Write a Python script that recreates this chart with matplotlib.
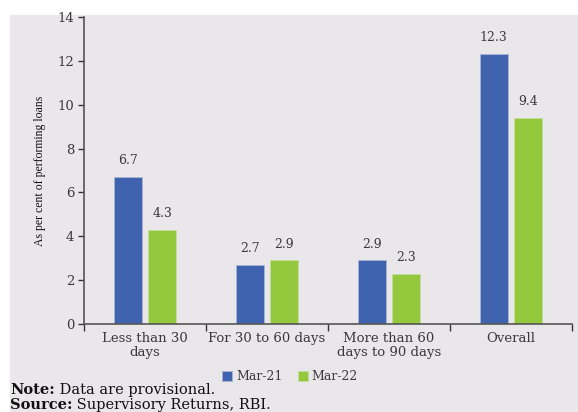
import matplotlib.pyplot as plt
import numpy as np

# data
categories = ['Less than 30\ndays', 'For 30 to 60 days', 'More than 60\ndays to 90 days', 'Overall']
mar21 = [6.7, 2.7, 2.9, 12.3]
mar22 = [4.3, 2.9, 2.3, 9.4]
series_names = ['Mar-21', 'Mar-22']

blue = '#3F63AE'
green = '#94C83D'
bg = '#E9E7EA'
txt = '#3A3A3A'

plt.rcParams['font.family'] = ['DejaVu Serif']

fig = plt.figure(figsize=(5.78, 4.12), dpi=100)
# grey panel behind everything, white strip at top and left
fig.patches.append(plt.Rectangle((10/578, 0), 1, 1 - 15/412, transform=fig.transFigure,
                                 color=bg, zorder=-10))

ax = fig.add_axes([84/578, 1 - 324/412, 488/578, 307/412])
ax.set_facecolor(bg)
ax.patch.set_alpha(0)

x = np.arange(len(categories))
w = 0.23
off = 0.143
b1 = ax.bar(x - off, mar21, w, color=blue, edgecolor='#A9B5D6', linewidth=0.6, label=series_names[0])
b2 = ax.bar(x + off, mar22, w, color=green, edgecolor='#C6DE9C', linewidth=0.6, label=series_names[1])

for bars, vals in ((b1, mar21), (b2, mar22)):
    for r, v in zip(bars, vals):
        ax.text(r.get_x() + r.get_width()/2, v + 0.45, '%.1f' % v, ha='center', va='bottom',
                fontsize=9, color=txt)

ax.set_xlim(-0.5, len(categories) - 0.5)
ax.set_ylim(0, 14)
ax.set_yticks(range(0, 15, 2))
ax.set_xticks(x)
ax.set_xticklabels(categories, fontsize=9.5, color=txt, linespacing=1.05)
ax.set_xticks(np.arange(-0.5, len(categories) + 0.5, 1), minor=True)
ax.tick_params(axis='x', which='major', length=0, pad=6)
ax.tick_params(axis='x', which='minor', length=5, width=1, color='#333333', direction='out')
ax.tick_params(axis='y', length=4, width=1, color='#333333', labelsize=9.5, labelcolor=txt, pad=3)

for s in ('top', 'right'):
    ax.spines[s].set_visible(False)
for s in ('left', 'bottom'):
    ax.spines[s].set_color('#555555')
    ax.spines[s].set_linewidth(1.2)

ax.set_ylabel('As per cent of performing loans', family='Liberation Serif', fontsize=8.5,
              color='#111111', labelpad=8)

fig.legend(handles=[b1, b2], loc='center', bbox_to_anchor=(290/578, 1 - 377/412), ncol=2,
           frameon=False, fontsize=9, handlelength=0.8, handleheight=0.8,
           handletextpad=0.3, columnspacing=1.2, labelcolor=txt)

# note lines: bold lead word followed by regular text
for yy, lead, rest in ((390, 'Note:', ' Data are provisional.'),
                       (405, 'Source:', ' Supervisory Returns, RBI.')):
    t = fig.text(10/578, 1 - yy/412, lead, fontsize=10.5, fontweight='bold',
                 va='center', color='#111111')
    fig.canvas.draw()
    bb = t.get_window_extent()
    fig.text(bb.x1 / fig.bbox.width, 1 - yy/412, rest, fontsize=10.5,
             va='center', color='#111111')

fig.savefig('out.png', dpi=100)
